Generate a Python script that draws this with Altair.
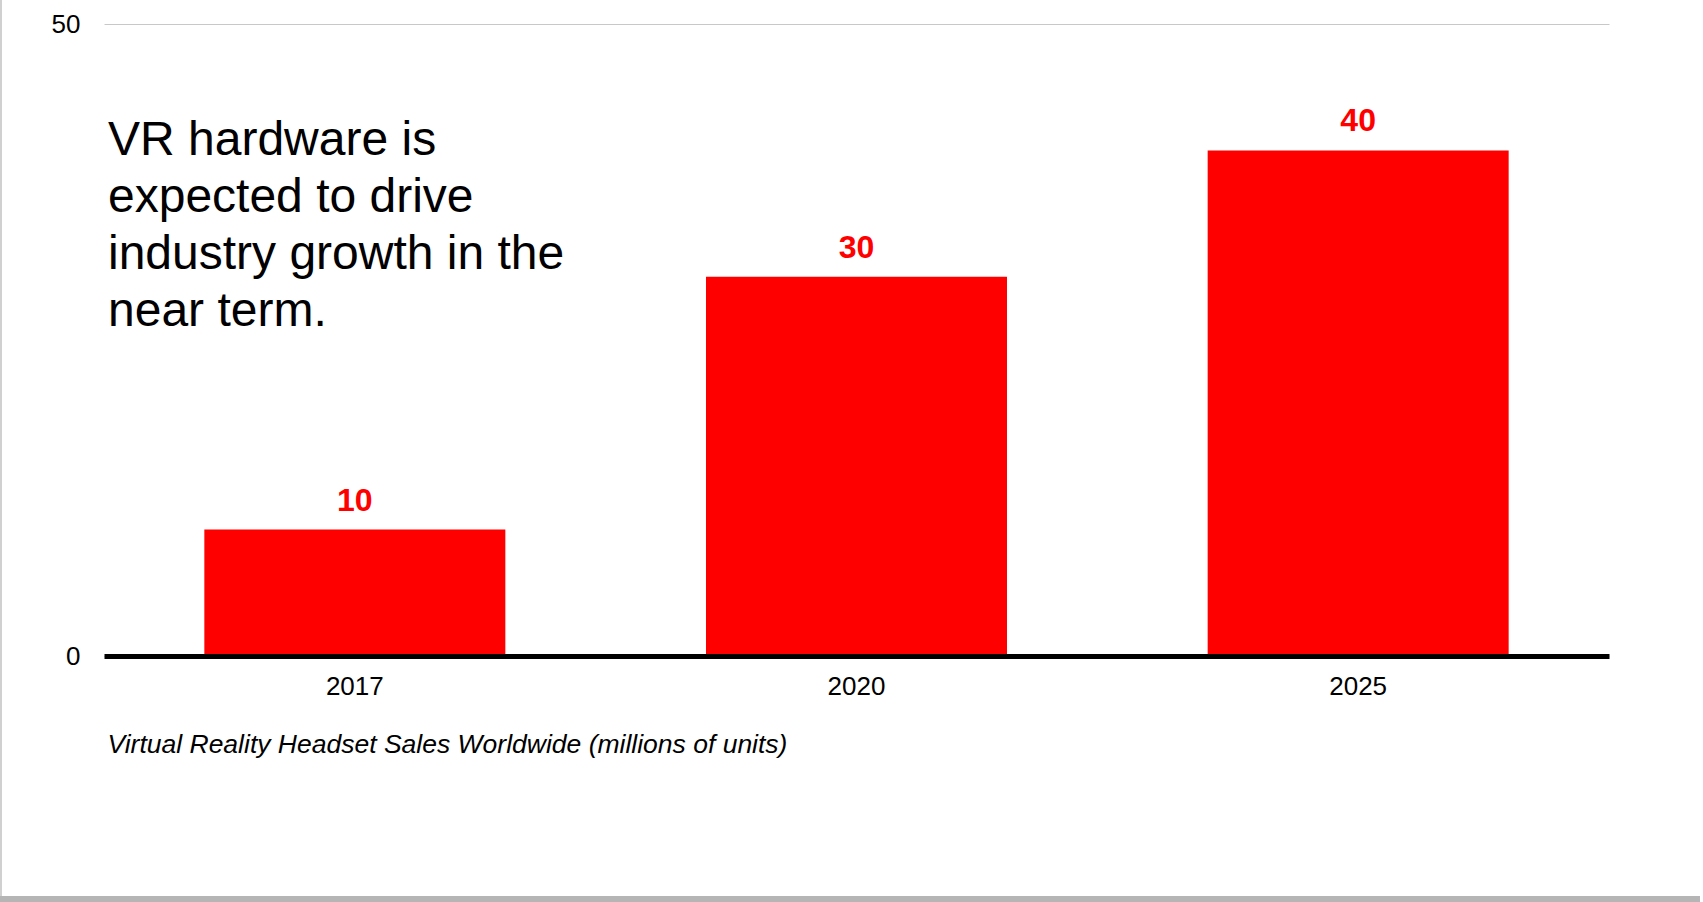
import altair as alt
import pandas as pd

years = ["2017", "2020", "2025"]
sales = [10, 30, 40]
label_text = ["10", "30", "40"]
headline = ["VR hardware is", "expected to drive", "industry growth in the", "near term."]
caption = "Virtual Reality Headset Sales Worldwide (millions of units)"

df = pd.DataFrame({"year": years, "sales": sales, "label": label_text})

W, H = 1505, 632
FONT = "Liberation Sans"

x = alt.X("year:N", sort=years,
          scale=alt.Scale(paddingInner=0.4, paddingOuter=0.2),
          axis=alt.Axis(title=caption, titleFontStyle="italic", titleFontWeight="normal",
                        titleFontSize=26.5, titleFont=FONT, titleColor="#000000",
                        titleAnchor="start", titleAlign="left", titleBaseline="alphabetic",
                        titleX=3, titleY=96,
                        labelAngle=0, labelFontSize=26, labelFont=FONT, labelColor="#000000",
                        labelPadding=17, ticks=False, domainColor="#000000",
                        domainWidth=5, grid=False, zindex=1))
y = alt.Y("sales:Q", scale=alt.Scale(domain=[0, 50]),
          axis=alt.Axis(title=None, values=[0, 50], ticks=False, domain=False,
                        labelFontSize=26, labelFont=FONT, labelColor="#000000",
                        labelPadding=24, gridColor="#c8c8c8", gridWidth=1))

bars = alt.Chart(df).mark_bar(color="#FF0000").encode(x=x, y=y)

labels = alt.Chart(df).mark_text(color="#FF0000", font=FONT, fontSize=32, fontWeight="bold",
                                 baseline="alphabetic", dy=-19).encode(
    x=alt.X("year:N", sort=years), y="sales:Q", text="label:N")

head = alt.Chart(pd.DataFrame({"t": [headline]})).mark_text(
    align="left", baseline="alphabetic", font=FONT, fontSize=48, color="#000000",
    lineHeight=57).encode(x=alt.value(4), y=alt.value(131), text="t")

frame_bottom = alt.Chart(pd.DataFrame({"a": [0]})).mark_rule(color="#b5b5b5", strokeWidth=6).encode(
    x=alt.value(-104), x2=alt.value(1596), y=alt.value(875))
frame_left = alt.Chart(pd.DataFrame({"a": [0]})).mark_rule(color="#d0d0d0", strokeWidth=2).encode(
    x=alt.value(-103), y=alt.value(-24), y2=alt.value(872))

chart = alt.layer(bars, labels, head, frame_bottom, frame_left).properties(
    width=W, height=H,
    autosize=alt.AutoSizeParams(type="none"),
    padding={"left": 104, "top": 24, "right": 94, "bottom": 246},
    background="#ffffff",
).configure_view(stroke=None)

chart.save("out.html", embed_options={"renderer": "svg", "actions": False})
